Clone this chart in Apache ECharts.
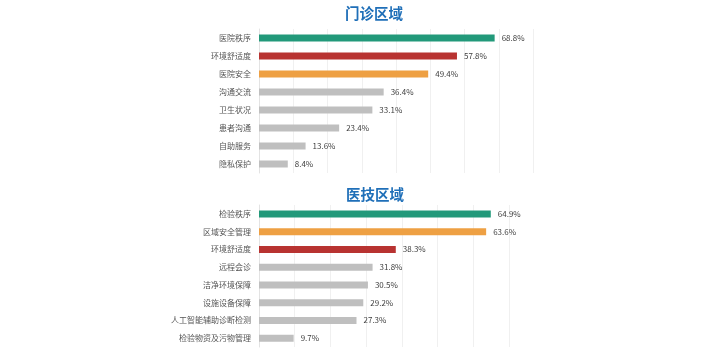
<!DOCTYPE html>
<html>
<head>
  <meta charset="utf-8">
  <title>门诊区域 / 医技区域</title>
  <script src="https://cdn.jsdelivr.net/npm/echarts@6/dist/echarts.min.js"></script>
  <style type="text/css">
    body {
      margin: 0;
      background: #fff;
    }

    #chart {
      width: 704px;
      height: 352px;
    }
  </style>
</head>

<body>
<div id="chart"></div>
<script>
  // 门诊区域
  var outpatientNames = ['医院秩序', '环境舒适度', '医院安全', '沟通交流', '卫生状况', '患者沟通', '自助服务', '隐私保护'];
  var outpatientValues = [68.8, 57.8, 49.4, 36.4, 33.1, 23.4, 13.6, 8.4];
  var outpatientColors = ['#22997a', '#b83331', '#eea043', '#bfbfbf', '#bfbfbf', '#bfbfbf', '#bfbfbf', '#bfbfbf'];

  // 医技区域
  var techNames = ['检验秩序', '区域安全管理', '环境舒适度', '远程会诊', '洁净环境保障', '设施设备保障', '人工智能辅助诊断检测', '检验物资及污物管理'];
  var techValues = [64.9, 63.6, 38.3, 31.8, 30.5, 29.2, 27.3, 9.7];
  var techColors = ['#22997a', '#eea043', '#b83331', '#bfbfbf', '#bfbfbf', '#bfbfbf', '#bfbfbf', '#bfbfbf'];

  var titles = ['门诊区域', '医技区域'];

  function barData(values, colors) {
    var result = [];
    for (var i = 0; i < values.length; i++) {
      result.push({value: values[i], itemStyle: {color: colors[i]}});
    }
    return result;
  }

  function xAxisOf(idx, max) {
    return {
      gridIndex: idx,
      type: 'value',
      min: 0,
      max: max,
      interval: 10,
      axisLabel: {show: false},
      axisLine: {show: false},
      axisTick: {show: false},
      splitLine: {lineStyle: {color: '#f0f0f0'}}
    };
  }

  function yAxisOf(idx, names) {
    return {
      gridIndex: idx,
      type: 'category',
      inverse: true,
      data: names,
      axisTick: {show: false},
      axisLine: {lineStyle: {color: '#e3e3e3'}},
      axisLabel: {color: '#555555', fontSize: 8, margin: 8, fontFamily: 'Noto Sans CJK SC'}
    };
  }

  function seriesOf(idx, values, colors) {
    return {
      type: 'bar',
      xAxisIndex: idx,
      yAxisIndex: idx,
      barWidth: 7,
      data: barData(values, colors),
      label: {
        show: true,
        position: 'right',
        distance: 7,
        color: '#404040',
        fontSize: 8,
        fontFamily: 'Noto Sans CJK SC',
        formatter: function (p) {
          return p.value.toFixed(1) + '%';
        }
      }
    };
  }

  var chart = echarts.init(document.getElementById('chart'));
  chart.setOption({
    animation: false,
    title: [
      {text: titles[0], left: 340, top: 1,
        textStyle: {color: '#1f6fb8', fontSize: 14.5, fontWeight: 'bold', fontFamily: 'Noto Sans CJK SC'}},
      {text: titles[1], left: 341, top: 182,
        textStyle: {color: '#1f6fb8', fontSize: 14.5, fontWeight: 'bold', fontFamily: 'Noto Sans CJK SC'}}
    ],
    grid: [
      {left: 259, top: 29, width: 274, height: 144},
      {left: 259, top: 205, width: 250, height: 142}
    ],
    xAxis: [xAxisOf(0, 80), xAxisOf(1, 70)],
    yAxis: [yAxisOf(0, outpatientNames), yAxisOf(1, techNames)],
    series: [
      seriesOf(0, outpatientValues, outpatientColors),
      seriesOf(1, techValues, techColors)
    ]
  });
</script>
</body>
</html>
